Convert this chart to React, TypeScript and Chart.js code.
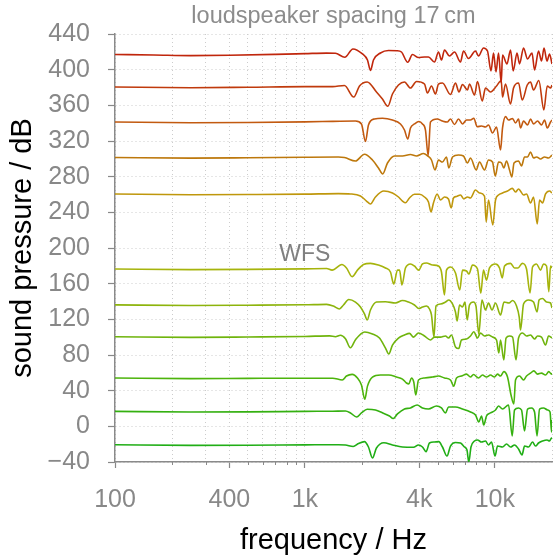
import React, { useEffect, useRef } from 'react';
import { Chart, registerables } from 'chart.js';

Chart.register(...registerables);

const FONT = '"Liberation Sans", Arial, Helvetica, sans-serif';

const TITLE = 'loudspeaker spacing 17\u2009cm';
const X_TITLE = 'frequency / Hz';
const Y_TITLE = 'sound pressure / dB';
const GROUP_LABEL = 'WFS';
const GROUP_LABEL_FREQ = 1000;
const GROUP_LABEL_LEVEL = 193;

const X_MIN = 100;
const X_MAX = 20000;
const X_GRID = [100, 200, 300, 400, 500, 600, 700, 800, 900, 1000, 2000, 3000, 4000, 5000, 6000, 7000, 8000, 9000, 10000, 20000];
const X_TICK_VALUES = [100, 400, 1000, 4000, 10000];
const X_TICK_LABELS = ['100', '400', '1k', '4k', '10k'];

const Y_MIN = -40;
const Y_MAX = 440;
const Y_TICKS = [-40, 0, 40, 80, 120, 160, 200, 240, 280, 320, 360, 400, 440];

const COLORS = ['#c0260c', '#c03a0c', '#c25a10', '#bd780c', '#bf970c', '#a6b40c', '#8db40c', '#6fb40c', '#4db40c', '#34b010', '#20ae16'];

const F1 = [100, 160, 250, 400, 700, 1000, 1300, 1447, 1621, 1790, 2009, 2135, 2214, 2296, 2499, 2754, 3052, 3224, 3479, 3684, 3962, 4261, 4473, 4811, 5049, 5237, 5432, 5771, 6132, 6594, 6838, 7265, 7910, 8203, 8715, 9149, 9548, 9842, 10146, 10458, 10806, 10978, 11590, 12097, 12496, 13085, 13493, 14163, 14867, 15696, 16186, 16988, 17618, 18155, 18827, 19415, 20000];
const L1 = [417, 416.5, 415.8, 416.2, 417.2, 418, 418.6, 418.4, 413.9, 423.2, 417.6, 410.8, 399.1, 410.8, 418.7, 421.5, 421.3, 419.8, 408.3, 417, 413.6, 414.2, 414.2, 408.6, 419.8, 410.8, 422.1, 415.3, 419.8, 408.6, 420.9, 412.5, 420.9, 415.3, 424.3, 420.9, 398.5, 418.7, 397.4, 418.7, 385, 416.4, 406.4, 422.1, 398.5, 418.7, 406.4, 424.3, 412, 418.7, 399.6, 420.9, 409.7, 424.3, 409.7, 417.6, 406.4];

const F2 = [100, 250, 500, 1000, 1400, 1615, 1808, 1938, 2128, 2381, 2560, 2733, 2890, 3109, 3344, 3596, 3868, 4261, 4419, 4639, 4869, 5049, 5301, 5841, 6206, 6473, 6756, 7178, 7354, 7815, 8105, 8580, 8930, 9491, 10208, 10806, 10979, 11385, 12097, 12545, 13329, 13944, 14815, 15418, 15989, 17049, 18115, 18882, 19651, 20000];
const L2 = [380.5, 379.8, 380.3, 381, 381, 382.2, 369.3, 381.7, 386.2, 375, 367.1, 358.9, 372.7, 382.8, 386.2, 379.4, 386.7, 383.9, 373.8, 381.7, 372.7, 383.9, 385, 372.2, 385, 374.9, 383.4, 377.2, 383.9, 371.6, 386.7, 364.9, 379.4, 375, 381.7, 387.9, 369.3, 383.9, 361.5, 379.4, 385, 366, 382.8, 386.2, 377.2, 387.9, 354.8, 381.7, 379.4, 382.8];

const F3 = [100, 250, 500, 1000, 1400, 1846, 1985, 2084, 2161, 2324, 2560, 2890, 3185, 3344, 3479, 3596, 3775, 3985, 4159, 4313, 4455, 4583, 4971, 5301, 5612, 5841, 6132, 6436, 6756, 7091, 7444, 7749, 8076, 8507, 8930, 9261, 9725, 10208, 10715, 10979, 11385, 11806, 12395, 12853, 13329, 13657, 14163, 14867, 15418, 15989, 16785, 17618, 18273, 18882, 19651, 20000];
const L3 = [341.3, 340.5, 340.8, 341.5, 342, 342.4, 339.1, 319.4, 338, 344.7, 345.5, 343.5, 339.1, 332.3, 322.2, 334.6, 339.1, 341.9, 339.1, 332.3, 303.7, 341.3, 344.7, 342.4, 341.3, 344.7, 338.5, 344.7, 339.1, 343.5, 343.5, 345.5, 336, 336.8, 335.7, 337.9, 329, 335.7, 309.9, 334.6, 347.3, 343.5, 345.2, 340.2, 344.7, 334.6, 342.4, 337.9, 344.7, 339.1, 342.4, 337.9, 343.5, 334.6, 341.3, 343.5];

const F4 = [100, 250, 500, 1000, 1500, 1615, 1846, 2059, 2268, 2439, 2569, 2721, 2962, 3263, 3596, 3868, 4209, 4473, 4639, 4840, 5049, 5301, 5564, 5722, 5985, 6436, 6838, 7178, 7444, 7977, 8303, 8822, 9261, 9725, 10048, 10458, 10845, 11151, 11524, 11951, 12291, 12620, 13329, 13824, 14338, 14867, 15418, 15989, 16582, 17406, 18273, 19178, 20000];
const L4 = [301.5, 300.8, 301.2, 301.8, 302, 301.5, 297.6, 305.1, 298.7, 289.7, 283, 295.3, 303.2, 303.2, 304.9, 303.2, 306, 302.6, 298.7, 287.5, 298.7, 296.4, 302.1, 289.7, 302.1, 304.3, 303.2, 295.3, 300.9, 287.5, 296.4, 287.5, 298.7, 296.4, 280.7, 296.4, 295.3, 289.7, 297.6, 287.5, 279.6, 295.3, 297.6, 292, 302.1, 302.1, 307.7, 300.9, 302.1, 299.8, 302.1, 300.9, 304.3];

const F5 = [100, 250, 500, 1000, 1500, 1737, 1961, 2110, 2214, 2352, 2603, 2890, 3109, 3263, 3384, 3553, 3775, 4010, 4261, 4473, 4611, 4751, 4971, 5174, 5432, 5701, 5891, 6059, 6282, 6594, 6865, 7178, 7444, 7910, 8303, 8822, 9006, 9261, 9757, 10085, 10458, 10978, 11663, 12349, 12853, 13329, 14163, 14687, 15418, 15989, 16723, 17196, 17834, 18494, 19415, 20000];
const L5 = [260.5, 259.8, 260, 260.4, 261, 260.6, 258.3, 252.7, 249.4, 257.2, 263.9, 261.7, 257.2, 252.7, 250.8, 256.1, 260.2, 260.2, 257.2, 251.6, 240.4, 250.5, 260.6, 253.8, 257.2, 254.9, 244.9, 256.1, 257.8, 259.5, 255, 257.2, 256.1, 265, 261.7, 258.3, 229.2, 253.8, 225.8, 253.8, 259.5, 261.7, 263.9, 266.9, 262.8, 266.2, 259.5, 260.6, 250.5, 257.2, 226.9, 253.8, 250.5, 260.6, 263.9, 261.7];

const F6 = [100, 250, 500, 1000, 1300, 1390, 1566, 1655, 1773, 1891, 2034, 2214, 2439, 2656, 2821, 2936, 3072, 3150, 3243, 3384, 3596, 3775, 3976, 4159, 4366, 4695, 5049, 5237, 5432, 5564, 5841, 6206, 6538, 6756, 7091, 7310, 7627, 8105, 8435, 8715, 9039, 9376, 10085, 10586, 10940, 11249, 12097, 12698, 13246, 13944, 14687, 15324, 15792, 16582, 17406, 18043, 18720, 19239, 19651, 20000];
const L6 = [176.5, 175.8, 176, 176.6, 177, 175.2, 181.5, 177.6, 167.8, 175.2, 181.5, 182.8, 180.9, 177.6, 173.1, 159.6, 175.2, 175.2, 158.5, 177.6, 182.1, 179.8, 175.2, 182.1, 183.2, 180.9, 179.8, 173.1, 147.3, 175.2, 178.7, 171.9, 152.9, 175.2, 174.2, 170.8, 180.9, 176.4, 149.2, 175.2, 164, 177.6, 182.1, 177.6, 166.4, 179.8, 182.8, 177.6, 177.6, 182.8, 176.4, 149.5, 178.7, 182.1, 175.2, 182.1, 179.8, 151, 179.8, 177.6];

const F7 = [100, 250, 500, 1000, 1300, 1412, 1519, 1596, 1701, 1846, 1961, 2059, 2128, 2214, 2381, 2656, 2998, 3263, 3510, 3775, 3976, 4159, 4366, 4528, 4639, 4782, 4899, 5174, 5497, 5722, 5985, 6206, 6334, 6516, 6756, 6960, 7152, 7354, 7720, 7958, 8232, 8555, 8930, 9261, 9665, 10085, 10715, 11180, 11877, 12395, 13010, 13442, 13657, 14163, 15049, 15989, 16682, 17094, 17834, 18720, 19651, 20000];
const L7 = [136.2, 135.5, 135.8, 136.3, 136.8, 134.9, 131.6, 136.1, 142.3, 139.4, 133.8, 126, 119.3, 130.5, 139.4, 139.8, 138.3, 141.1, 139.4, 136.1, 132.2, 133.8, 134.9, 131.6, 124.9, 100.2, 134.9, 137.2, 139.4, 141.7, 137.2, 128.2, 118.1, 136.1, 133.8, 139.4, 119.3, 136.1, 139.4, 134.9, 103.5, 141.7, 130.5, 138.3, 130.5, 138.3, 124.9, 139.4, 138.3, 141.1, 134.9, 122.6, 108, 137.2, 141.7, 139.4, 128.2, 141.7, 143.4, 139.4, 138.3, 132.7];

const F8 = [100, 250, 500, 1000, 1350, 1447, 1538, 1635, 1737, 1846, 2065, 2268, 2469, 2656, 2764, 2890, 3109, 3344, 3553, 3731, 3962, 4261, 4583, 4811, 5174, 5497, 5701, 5912, 6206, 6458, 6674, 7091, 7444, 7749, 8105, 8404, 8822, 9261, 9725, 10208, 10497, 10715, 11151, 11454, 11951, 12395, 12931, 13329, 13992, 14687, 15418, 16186, 16785, 17618, 18494, 19178, 20000];
const L8 = [100.5, 99.8, 100.2, 100.8, 101.5, 100.5, 102.1, 98.2, 88.1, 97.1, 105.8, 103.5, 99, 87.8, 81.1, 91.2, 99, 102.4, 104.3, 100.1, 104.7, 101.3, 96.8, 100.1, 100.1, 101.3, 99, 102.4, 89, 87.3, 96.8, 97.9, 101.3, 106.1, 99, 104.7, 101.3, 102.4, 100.1, 96.8, 82.2, 96.8, 74.4, 99, 101.3, 100.1, 74.4, 99, 104.7, 101.3, 102.4, 97.9, 101.3, 100.1, 91.2, 101.3, 99];

const F9 = [100, 250, 500, 1000, 1400, 1573, 1655, 1773, 1891, 1985, 2066, 2135, 2268, 2499, 2764, 3035, 3263, 3425, 3522, 3640, 3742, 3835, 3962, 4261, 4695, 5049, 5432, 5841, 6078, 6282, 6674, 7091, 7444, 7720, 8203, 8610, 9039, 9491, 9962, 10331, 10715, 11151, 11663, 12171, 12588, 12853, 13493, 14163, 14687, 15418, 16044, 16785, 17618, 18494, 19239, 19891, 20000];
const L9 = [54.2, 53.5, 53.8, 54, 54, 52, 56.4, 58.3, 54.2, 46.3, 30.3, 45.1, 55.3, 57.5, 57.5, 55.3, 53, 48.6, 47.5, 54.2, 49.7, 35.1, 52, 54.2, 55.3, 56.4, 54.2, 52, 45.1, 54.2, 56.4, 58.6, 55.3, 58.1, 54.2, 57.5, 55.3, 57.5, 55.3, 58.6, 56.4, 61.3, 55.3, 35.1, 25, 52, 56.4, 52, 56.4, 59.7, 62.2, 58.6, 59.7, 57.5, 61.3, 58.6, 59.7];

const F10 = [100, 250, 500, 1000, 1400, 1635, 1737, 1871, 1985, 2128, 2352, 2569, 2787, 2915, 3072, 3344, 3596, 3901, 4159, 4473, 4929, 5237, 5497, 5701, 6206, 6756, 7444, 7910, 8232, 8507, 8746, 9039, 9491, 10085, 10458, 10978, 11806, 12349, 12698, 13329, 13824, 14338, 14867, 15606, 16186, 16682, 17196, 18043, 18949, 19531, 19891, 20000];
const L10 = [16.8, 16, 16.2, 16.8, 17, 17.2, 15, 10.5, 15, 19.1, 18.3, 15, 11.6, 8.8, 13.9, 19.4, 20.6, 24, 20.6, 19.4, 22.8, 20.6, 15, 21.7, 21.7, 19.4, 16.1, 12.7, 4.9, 11.6, 1.5, 11.6, 15, 18.3, 22.8, 19.4, 23.9, -10.8, 18.3, 20.6, 18.3, -5.2, 19.4, 20.6, 16.1, -10.8, 19.4, 20.6, 18.3, 16.1, -6.4, 7.1];

const F11 = [100, 250, 500, 1000, 1500, 1635, 1796, 1914, 2058, 2161, 2268, 2381, 2603, 2890, 3263, 3731, 3962, 4159, 4345, 4528, 4811, 5067, 5301, 5600, 5841, 6206, 6594, 6922, 7135, 7291, 7490, 7815, 8105, 8507, 8930, 9261, 9607, 10024, 10331, 10979, 11524, 12097, 12698, 13329, 13908, 14338, 15049, 15792, 16382, 16988, 17834, 18827, 19415, 19891, 20000];
const L11 = [-20.6, -21.4, -21.2, -20.8, -20.6, -20.9, -22.6, -19.3, -17.2, -23.2, -35.5, -24.3, -18.4, -20.9, -23.2, -23.5, -20.9, -23.2, -28.5, -18.7, -17.6, -17.2, -23.2, -33.3, -22.1, -18.1, -18.7, -23.2, -26.6, -40, -23.2, -16.5, -15.3, -17.6, -16.5, -20.9, -17.6, -33.3, -22.1, -23.2, -19.8, -23.2, -20.9, -25.4, -32.1, -22.1, -23.2, -17.6, -22.1, -18.7, -16.5, -15.3, -16.5, -13.1, -14.2];

const FREQS = [F1, F2, F3, F4, F5, F6, F7, F8, F9, F10, F11];
const LEVELS = [L1, L2, L3, L4, L5, L6, L7, L8, L9, L10, L11];

const labelFor = (v: number) => {
  const i = X_TICK_VALUES.indexOf(v);
  return i >= 0 ? X_TICK_LABELS[i] : '';
};

const extras = {
  id: 'extras',
  afterDraw(chart: any) {
    const { ctx, scales } = chart;
    const x = scales.x;
    const y = scales.y;
    ctx.save();
    ctx.strokeStyle = '#8a8a8a';
    ctx.lineWidth = 1;
    X_GRID.forEach((v) => {
      if (labelFor(v) === '' && v < X_MAX) {
        const px = Math.round(x.getPixelForValue(v)) + 0.5;
        ctx.beginPath();
        ctx.moveTo(px, y.bottom);
        ctx.lineTo(px, y.bottom + 3);
        ctx.stroke();
      }
    });
    ctx.font = `23px ${FONT}`;
    ctx.fillStyle = '#808080';
    ctx.textAlign = 'center';
    ctx.textBaseline = 'middle';
    ctx.fillText(GROUP_LABEL, x.getPixelForValue(GROUP_LABEL_FREQ), y.getPixelForValue(GROUP_LABEL_LEVEL));
    ctx.restore();
  },
};

export default function App() {
  const ref = useRef<HTMLCanvasElement | null>(null);

  useEffect(() => {
    if (!ref.current) return;
    const datasets = FREQS.map((fs, i) => ({
      label: `s${i + 1}`,
      data: fs.map((f, j) => ({ x: f, y: LEVELS[i][j] })),
      borderColor: COLORS[i],
      backgroundColor: COLORS[i],
      borderWidth: 1.6,
      pointRadius: 0,
      fill: false,
      cubicInterpolationMode: 'monotone' as const,
    }));

    const chart = new Chart(ref.current, {
      type: 'line',
      data: { datasets },
      plugins: [extras],
      options: {
        animation: false,
        responsive: false,
        maintainAspectRatio: false,
        parsing: false as any,
        layout: { padding: { top: 0, right: 1, bottom: 0, left: 0 } },
        plugins: {
          legend: { display: false },
          tooltip: { enabled: false },
          title: {
            display: true,
            text: TITLE,
            color: '#8c8c8c',
            fullSize: false,
            font: { family: FONT, size: 23.5, weight: 'normal' as any },
            padding: { top: 2, bottom: 3.8 },
          },
        },
        scales: {
          x: {
            type: 'logarithmic',
            min: X_MIN,
            max: X_MAX,
            afterBuildTicks: (scale: any) => {
              scale.ticks = X_GRID.map((v) => ({ value: v }));
            },
            afterFit: (scale: any) => {
              scale.height = 93;
              scale.paddingLeft = 0;
              scale.paddingRight = 0;
            },
            ticks: {
              autoSkip: false,
              maxRotation: 0,
              color: '#888888',
              font: { family: FONT, size: 25 },
              padding: 17,
              callback: (v: any) => labelFor(Number(v)),
            },
            grid: {
              color: '#cccccc',
              lineWidth: 1,
              tickLength: 6,
              tickWidth: 1.2,
              tickColor: (c: any) => (c.tick && labelFor(c.tick.value) !== '' ? '#888888' : 'rgba(0,0,0,0)'),
              tickBorderDash: [],
            },
            border: { display: true, color: '#8a8a8a', width: 1.5, dash: [1, 3] },
            title: {
              display: true,
              text: X_TITLE,
              color: '#000000',
              font: { family: FONT, size: 29, lineHeight: 1.0 },
              padding: { top: 0, bottom: 0 },
            },
          },
          y: {
            type: 'linear',
            min: Y_MIN,
            max: Y_MAX,
            afterBuildTicks: (scale: any) => {
              scale.ticks = Y_TICKS.map((v) => ({ value: v }));
            },
            afterFit: (scale: any) => {
              scale.width = 115;
            },
            ticks: {
              color: '#888888',
              font: { family: FONT, size: 25 },
              padding: 18,
              callback: (v: any) => (Number(v) < 0 ? '\u2212' + Math.abs(Number(v)) : String(v)),
            },
            grid: {
              color: '#cccccc',
              lineWidth: 1,
              tickLength: 7,
              tickWidth: 1.2,
              tickColor: '#888888',
              tickBorderDash: [],
            },
            border: { display: true, color: '#8a8a8a', width: 1.5, dash: [1, 3] },
            title: {
              display: true,
              text: Y_TITLE,
              color: '#000000',
              font: { family: FONT, size: 29, lineHeight: 1.0 },
              padding: { top: 8, bottom: 0 },
            },
          },
        },
      } as any,
    });
    return () => chart.destroy();
  }, []);

  return (
    <div style={{ position: 'absolute', left: 0, top: 0, width: 553, height: 555, background: '#ffffff' }}>
      <canvas ref={ref} width={553} height={555} style={{ display: 'block', width: 553, height: 555 }} />
    </div>
  );
}
